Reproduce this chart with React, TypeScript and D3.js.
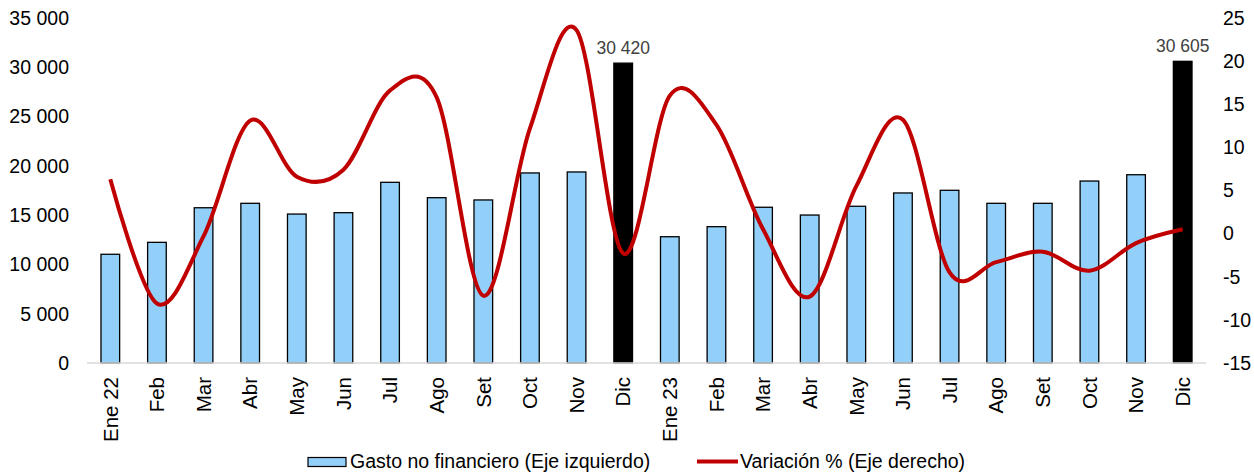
import React from 'react';
import * as d3 from 'd3';

const categories = ['Ene 22', 'Feb', 'Mar', 'Abr', 'May', 'Jun', 'Jul', 'Ago', 'Set', 'Oct', 'Nov', 'Dic',
  'Ene 23', 'Feb', 'Mar', 'Abr', 'May', 'Jun', 'Jul', 'Ago', 'Set', 'Oct', 'Nov', 'Dic'];

const gasto = [11030, 12240, 15750, 16200, 15110, 15250, 18330, 16770, 16540, 19280, 19380, 30420,
  12810, 13830, 15800, 15010, 15900, 17250, 17520, 16200, 16200, 18460, 19100, 30605];

const variacion = [6.3, -8.1, -0.3, 13.1, 6.6, 7.4, 16.6, 15.8, -7.2, 12.2, 23.6, -2.3,
  16.0, 12.6, 0.5, -7.3, 5.5, 13.2, -4.5, -3.3, -2.1, -4.3, -1.1, 0.5];

const highlighted = [11, 23];

const leftTicks = [0, 5000, 10000, 15000, 20000, 25000, 30000, 35000];
const rightTicks = [-15, -10, -5, 0, 5, 10, 15, 20, 25];

const W = 1254;
const H = 472;
const margin = { top: 18, right: 48, bottom: 109, left: 87 };
const font = '"Liberation Sans", Arial, sans-serif';

const fmt = (v: number) => d3.format(',')(v).replace(/,/g, ' ');

export default function App() {
  const x = d3
    .scaleBand<number>()
    .domain(d3.range(categories.length))
    .range([margin.left, W - margin.right])
    .paddingInner(0.6)
    .paddingOuter(0.3);

  const yL = d3.scaleLinear().domain([0, 35000]).range([H - margin.bottom, margin.top]);
  const yR = d3.scaleLinear().domain([-15, 25]).range([H - margin.bottom, margin.top]);

  const cx = (i: number) => x(i)! + x.bandwidth() / 2;

  const line = d3
    .line<number>()
    .x((_, i) => cx(i))
    .y((d) => yR(d))
    .curve(d3.curveCardinal.tension(0));

  const base = yL(0);

  return (
    <svg width={W} height={H} style={{ position: 'absolute', left: 0, top: 0, background: '#fff' }}>
      {/* barras */}
      {gasto.map((v, i) => (
        <rect
          key={i}
          x={x(i)}
          y={yL(v)}
          width={x.bandwidth()}
          height={base - yL(v)}
          fill={highlighted.includes(i) ? '#000' : '#92D0F9'}
          stroke="#000"
          strokeWidth={1.3}
        />
      ))}

      {/* eje x */}
      <line x1={margin.left} x2={W - margin.right} y1={base} y2={base} stroke="#d9d9d9" strokeWidth={1.3} />

      {/* etiquetas de dato */}
      {highlighted.map((i) => (
        <text key={i} x={cx(i)} y={yL(gasto[i]) - 9} textAnchor="middle" fontFamily={font} fontSize={17.5} fill="#404040">
          {fmt(gasto[i])}
        </text>
      ))}

      {/* línea */}
      <path d={line(variacion)!} fill="none" stroke="#C00000" strokeWidth={4} strokeLinejoin="round" />

      {/* eje izquierdo */}
      {leftTicks.map((t) => (
        <text key={t} x={69} y={yL(t)} dy="0.35em" textAnchor="end" fontFamily={font} fontSize={19.5} fill="#000">
          {fmt(t)}
        </text>
      ))}

      {/* eje derecho */}
      {rightTicks.map((t) => (
        <text key={t} x={1223} y={yR(t)} dy="0.35em" textAnchor="start" fontFamily={font} fontSize={19.5} fill="#000">
          {t}
        </text>
      ))}

      {/* categorías */}
      {categories.map((c, i) => (
        <text
          key={i}
          transform={`translate(${cx(i)},${base + 14}) rotate(-90)`}
          dy="0.35em"
          textAnchor="end"
          fontFamily={font}
          fontSize={20.5}
          fill="#000"
        >
          {c}
        </text>
      ))}

      {/* leyenda */}
      <rect x={308} y={457.5} width={38} height={9} fill="#92D0F9" stroke="#000" strokeWidth={1.2} />
      <text x={350} y={461.5} dy="0.35em" fontFamily={font} fontSize={19.5} fill="#000">
        Gasto no financiero (Eje izquierdo)
      </text>
      <line x1={697} x2={738} y1={461.5} y2={461.5} stroke="#C00000" strokeWidth={4} />
      <text x={740} y={461.5} dy="0.35em" fontFamily={font} fontSize={19.5} fill="#000">
        Variación % (Eje derecho)
      </text>
    </svg>
  );
}
